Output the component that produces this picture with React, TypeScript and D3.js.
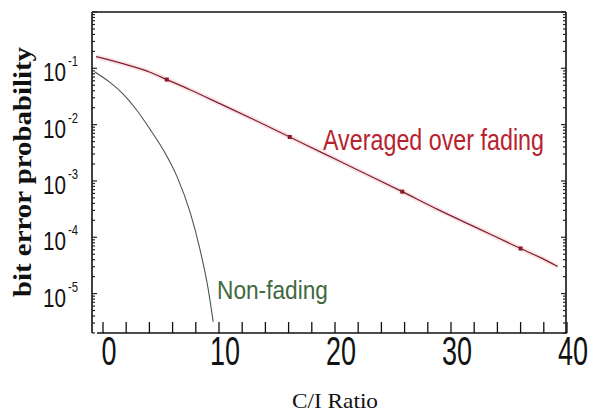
import React, { useEffect, useRef } from 'react';
import * as d3 from 'd3';

// averaged over fading
const fadeX = [-0.6, 0.6, 2.6, 4.05, 5.5, 7.5, 10.3, 13.3, 16.1, 19.0, 21.6, 25.8, 28.8, 32.5, 36.0, 37.9, 39.2];
const fadeY = [0.161, 0.14, 0.107, 0.0851, 0.0631, 0.0417, 0.0224, 0.0115, 0.00603, 0.00309, 0.0017, 6.46e-4, 3.16e-4, 1.38e-4, 6.31e-5, 4.17e-5, 3.02e-5];
const fadeMarks = [5.5, 16.1, 25.8, 36.0];

// non-fading
const nfX = [-0.7, 0.6, 1.7, 2.9, 4.05, 5.2, 6.4, 7.5, 8.4, 9.05, 9.5];
const nfY = [0.086, 0.0562, 0.0355, 0.0182, 0.00832, 0.00355, 0.00117, 2.82e-4, 5.62e-5, 1.26e-5, 3.16e-6];

const xTickLabels = [0, 10, 20, 30, 40];
const yDecades = [-1, -2, -3, -4, -5];

export default function App() {
  const svgRef = useRef<SVGSVGElement | null>(null);

  useEffect(() => {
    const width = 590;
    const height = 412;
    const left = 92, right = 566, top = 12, bottom = 333;

    const svg = d3.select(svgRef.current).attr('width', width).attr('height', height);
    svg.selectAll('*').remove();

    const x = d3.scaleLinear().domain([0, 40]).range([103, 567]);
    const y = d3.scaleLog().domain([Math.pow(10, -5.7), 1]).range([bottom, top]);

    // frame
    const frame = svg.append('g').attr('stroke', '#111').attr('stroke-width', 1.6).attr('fill', 'none');
    frame.append('line').attr('x1', left).attr('x2', left).attr('y1', top).attr('y2', bottom);
    frame.append('line').attr('x1', left).attr('x2', right).attr('y1', top).attr('y2', top);
    frame.append('line').attr('x1', right).attr('x2', right).attr('y1', top).attr('y2', bottom);
    frame.append('line').attr('x1', 97).attr('x2', 567).attr('y1', bottom).attr('y2', bottom);

    // x ticks every 2
    const xt = d3.range(0, 41, 2);
    svg.append('g').selectAll('line').data(xt).enter().append('line')
      .attr('x1', (d) => x(d)).attr('x2', (d) => x(d))
      .attr('y1', bottom).attr('y2', bottom - 11)
      .attr('stroke', '#111').attr('stroke-width', 1.3);

    // log ticks on both sides
    const logTicks: { v: number; major: boolean }[] = [];
    for (let dcd = -6; dcd <= 0; dcd++) {
      for (let k = 1; k <= 9; k++) {
        const v = k * Math.pow(10, dcd);
        if (v >= Math.pow(10, -5.7) && v <= 1) logTicks.push({ v, major: k === 1 });
      }
    }
    const yt = svg.append('g').attr('stroke', '#222').attr('stroke-width', 1.2);
    logTicks.forEach((t) => {
      const len = t.major ? 5 : 3;
      yt.append('line').attr('x1', left).attr('x2', left + len).attr('y1', y(t.v)).attr('y2', y(t.v));
      yt.append('line').attr('x1', right).attr('x2', right - len).attr('y1', y(t.v)).attr('y2', y(t.v));
    });

    // x tick labels
    svg.append('g').selectAll('text').data(xTickLabels).enter().append('text')
      .attr('x', (d) => x(d) + 6 - (d === 0 ? 7.5 : 15))
      .attr('y', 365)
      .attr('textLength', (d) => (d === 0 ? 15 : 30))
      .attr('lengthAdjust', 'spacingAndGlyphs')
      .attr('font-family', 'Liberation Sans, Arial, sans-serif')
      .attr('font-size', 41)
      .attr('fill', '#111')
      .text((d) => d);

    // y tick labels 10^-n
    const yl = svg.append('g').attr('font-family', 'Liberation Sans, Arial, sans-serif').attr('fill', '#111');
    yDecades.forEach((dcd) => {
      const py = y(Math.pow(10, dcd)) + 13;
      yl.append('text').attr('x', 43).attr('y', py)
        .attr('font-size', 25).attr('textLength', 23).attr('lengthAdjust', 'spacingAndGlyphs')
        .text('10');
      yl.append('text').attr('x', 68).attr('y', py - 15)
        .attr('font-size', 14).attr('textLength', 10).attr('lengthAdjust', 'spacingAndGlyphs')
        .text(String(dcd));
    });

    const line = d3.line<[number, number]>().x((d) => x(d[0])).y((d) => y(d[1])).curve(d3.curveMonotoneX);

    const fadePts = fadeX.map((v, i) => [v, fadeY[i]] as [number, number]);
    const nfPts = nfX.map((v, i) => [v, nfY[i]] as [number, number]);

    // faint pink glow under the red curve
    svg.append('path').attr('d', line(fadePts)).attr('fill', 'none')
      .attr('stroke', '#f8d8dc').attr('stroke-width', 5).attr('opacity', 0.7);
    svg.append('path').attr('d', line(fadePts)).attr('fill', 'none')
      .attr('stroke', '#7e2030').attr('stroke-width', 1.2);

    const interpY = (v: number) => {
      const i = d3.bisectLeft(fadeX, v);
      if (fadeX[i] === v) return fadeY[i];
      const x0 = fadeX[i - 1], x1 = fadeX[i];
      const t = (v - x0) / (x1 - x0);
      return Math.pow(10, Math.log10(fadeY[i - 1]) * (1 - t) + Math.log10(fadeY[i]) * t);
    };
    svg.append('g').selectAll('rect').data(fadeMarks).enter().append('rect')
      .attr('x', (d) => x(d) - 2).attr('y', (d) => y(interpY(d)) - 2)
      .attr('width', 4).attr('height', 4).attr('fill', '#8a1a2a');

    svg.append('path').attr('d', line(nfPts)).attr('fill', 'none')
      .attr('stroke', '#4b574b').attr('stroke-width', 1.1);

    // curve labels
    svg.append('text').attr('x', 323).attr('y', 150)
      .attr('font-family', 'Liberation Sans, Arial, sans-serif').attr('font-size', 29)
      .attr('textLength', 221).attr('lengthAdjust', 'spacingAndGlyphs')
      .attr('fill', '#b8222e').text('Averaged over fading');
    svg.append('text').attr('x', 217).attr('y', 299)
      .attr('font-family', 'Liberation Sans, Arial, sans-serif').attr('font-size', 25)
      .attr('textLength', 111).attr('lengthAdjust', 'spacingAndGlyphs')
      .attr('fill', '#3f6a3f').text('Non-fading');

    // axis titles
    svg.append('text').attr('x', 378 - 86).attr('y', 408)
      .attr('font-family', 'Liberation Serif, Times New Roman, serif').attr('font-size', 21)
      .attr('textLength', 86).attr('lengthAdjust', 'spacingAndGlyphs')
      .attr('fill', '#111').text('C/I Ratio');
    svg.append('text')
      .attr('transform', 'translate(31,297) rotate(-90)')
      .attr('font-family', 'Liberation Serif, Times New Roman, serif').attr('font-size', 25)
      .attr('font-weight', 'bold')
      .attr('textLength', 250).attr('lengthAdjust', 'spacingAndGlyphs')
      .attr('fill', '#111').text('bit error probability');
  }, []);

  return <svg ref={svgRef} style={{ position: 'absolute', left: 0, top: 0, background: '#fff' }}></svg>;
}
